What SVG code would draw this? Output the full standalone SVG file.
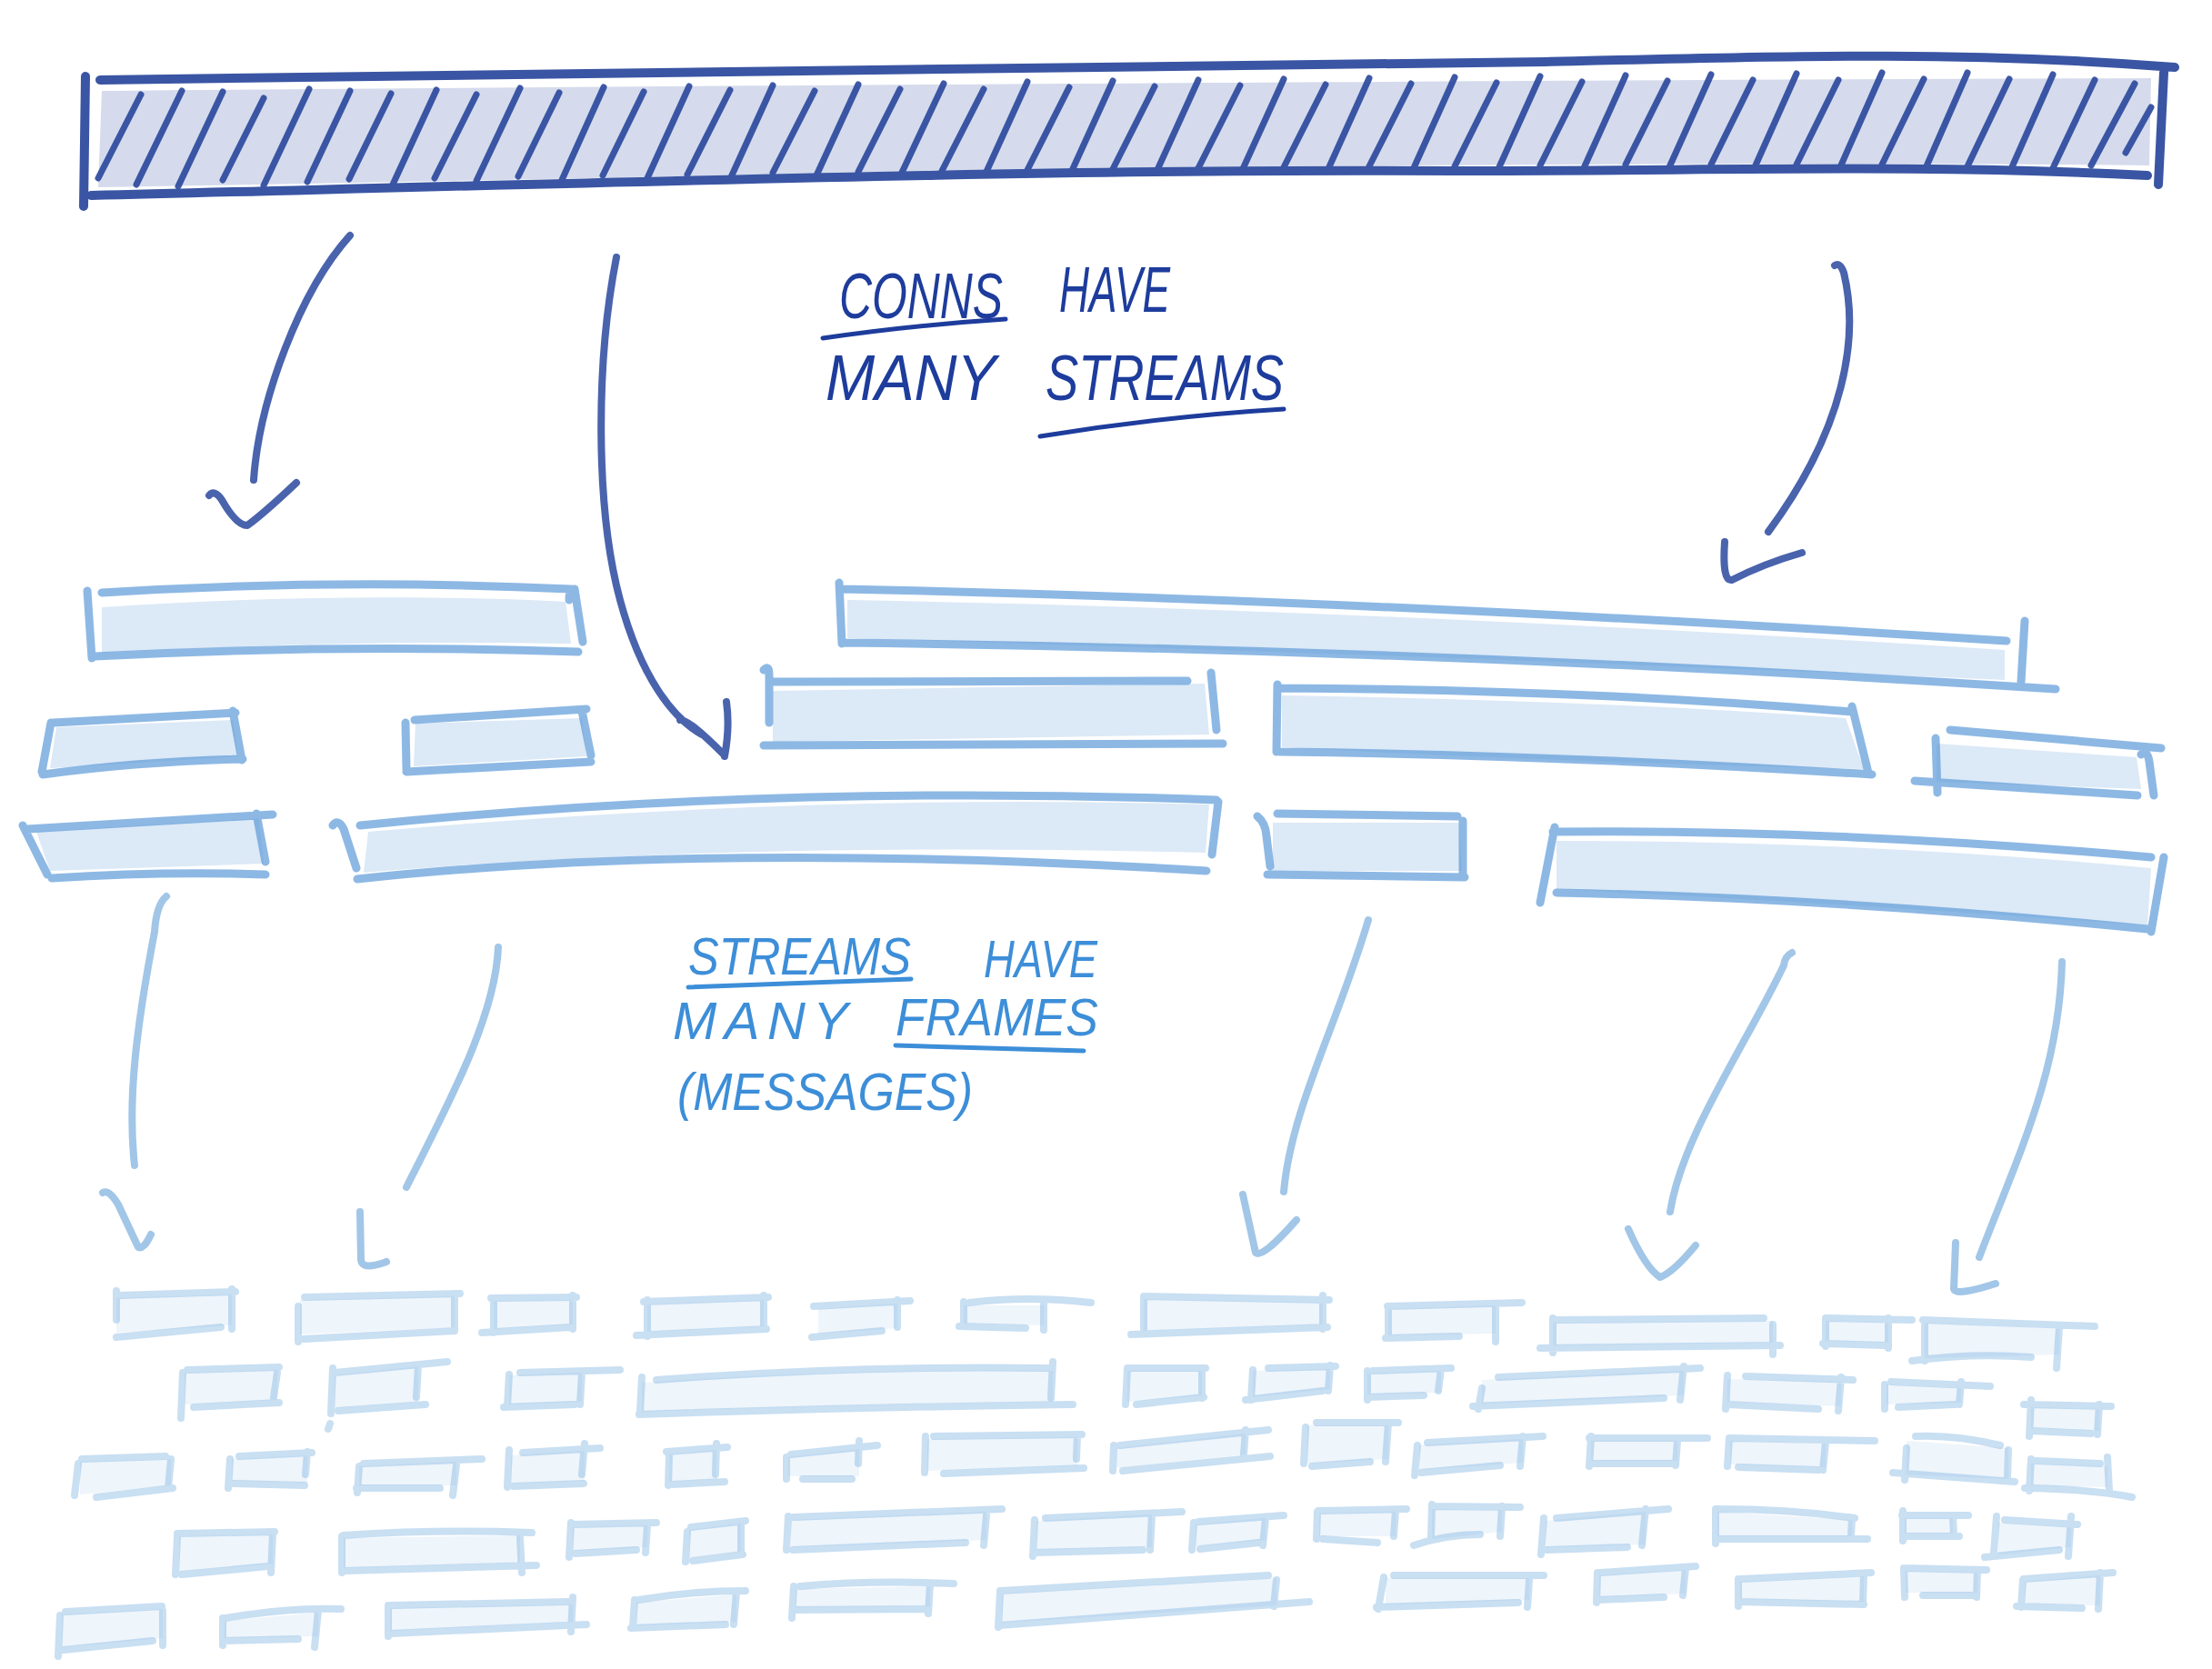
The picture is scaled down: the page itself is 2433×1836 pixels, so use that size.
<svg xmlns="http://www.w3.org/2000/svg" width="2433" height="1836" viewBox="0 0 2433 1836">
<style>
.bg{fill:#ffffff}
.barfill{fill:#d5dbec}
.bar{fill:none;stroke:#3a55a3;stroke-width:10;stroke-linecap:round;stroke-linejoin:round}
.hatch{fill:none;stroke:#2e4a9e;stroke-width:7;stroke-linecap:round;opacity:0.92}
.sf{fill:#dce9f6}
.ss{fill:none;stroke:#5d9ad8;stroke-opacity:0.7;stroke-width:9;stroke-linecap:round;stroke-linejoin:round}
.ff{fill:#eaf2fa;opacity:0.8}
.fs{fill:none;stroke:#7fb2e0;stroke-opacity:0.42;stroke-width:8;stroke-linecap:round;stroke-linejoin:round}
.darr{fill:none;stroke:#4a63ad;stroke-width:8;stroke-linecap:round;stroke-linejoin:round}
.larr{fill:none;stroke:#a2c6e7;stroke-width:8;stroke-linecap:round;stroke-linejoin:round}
.t1{font-family:"Liberation Sans","DejaVu Sans",sans-serif;font-style:italic;fill:#1d3c9c;font-size:70px;font-weight:400}
.t2{font-family:"Liberation Sans","DejaVu Sans",sans-serif;font-style:italic;fill:#3d8ed8;font-size:58px;font-weight:400}
.u1{fill:none;stroke:#1d3c9c;stroke-width:5;stroke-linecap:round}
.u2{fill:none;stroke:#3d8ed8;stroke-width:5;stroke-linecap:round}
</style>
<rect class="bg" x="0" y="0" width="2433" height="1836"/>

<g id="connection">
<path class="barfill" d="M112,100 C600,96 1300,90 2366,86 L2364,182 C2000,178 1600,182 1300,184 C900,190 500,200 108,206 Z"/>
<path class="hatch" d="M108,196 L155,104 M150,203 L200,100 M196,205 L245,101 M245,198 L290,108 M290,204 L340,98 M338,200 L385,100 M384,197 L430,103 M432,203 L480,99 M478,196 L524,104 M524,199 L572,97 M570,194 L615,102 M618,198 L664,96 M663,193 L708,101 M712,196 L758,95 M756,192 L803,99 M804,195 L850,94 M850,190 L896,100 M898,193 L944,93 M944,189 L990,98 M990,194 L1038,92 M1036,188 L1082,98 M1084,191 L1130,90 M1130,187 L1176,96 M1178,190 L1224,89 M1224,186 L1270,95 M1272,189 L1318,88 M1318,185 L1364,94 M1366,188 L1412,87 M1412,184 L1458,93 M1460,188 L1506,86 M1506,183 L1552,92 M1554,187 L1600,85 M1600,183 L1646,91 M1648,186 L1694,84 M1694,182 L1740,90 M1742,185 L1788,83 M1788,181 L1834,89 M1836,184 L1882,82 M1882,181 L1928,88 M1930,184 L1976,81 M1976,181 L2022,88 M2024,184 L2070,80 M2070,181 L2116,87 M2118,185 L2164,80 M2164,183 L2210,87 M2212,186 L2258,82 M2258,185 L2304,88 M2300,182 L2348,92 M2338,168 L2366,118"/>
<path class="bar" d="M110,88 C600,80 1200,75 1700,68 C1950,62 2150,55 2392,74 M100,215 C700,200 1200,185 1600,188 C1900,188 2100,180 2362,193 M94,84 L92,227 M2380,80 L2374,203"/>
</g>

<g id="label-conns">
<text class="t1" x="923" y="350" textLength="180" lengthAdjust="spacingAndGlyphs">CONNS</text>
<text class="t1" x="1165" y="343" textLength="122" lengthAdjust="spacingAndGlyphs">HAVE</text>
<text class="t1" x="908" y="440" textLength="188" lengthAdjust="spacingAndGlyphs">MANY</text>
<text class="t1" x="1150" y="440" textLength="262" lengthAdjust="spacingAndGlyphs">STREAMS</text>
<path class="u1" d="M905,372 Q1000,358 1106,351 M1144,480 Q1280,458 1412,450"/>
</g>

<g id="streams">
<g id="s1"><path class="sf" d="M112,668 C300,655 500,655 622,662 L628,708 C450,705 300,708 112,718 Z"/><path class="ss" d="M112,652 Q370,636 628,648 M104,722 Q370,708 636,717 M96,650 L101,724 M626,660 Q626,647 632,648 L641,706"/></g>
<g id="s2"><path class="sf" d="M62,800 L256,792 L262,832 L55,845 Z"/><path class="ss" d="M59,795 L259,784 M47,852 Q150,838 267,835 M56,795 L46,849 M256,782 L266,836"/></g>
<g id="s3"><path class="sf" d="M457,796 L640,790 L645,832 L455,843 Z"/><path class="ss" d="M456,792 L645,780 M447,849 L650,838 M446,795 L447,846 M640,782 L650,831"/></g>
<g id="s4"><path class="sf" d="M40,915 L285,900 L290,950 L55,958 Z"/><path class="ss" d="M30,912 L300,896 M57,966 Q180,958 292,962 M25,908 L52,962 M282,895 L292,948"/></g>
<g id="s5"><path class="sf" d="M405,915 Q900,872 1330,885 L1326,938 Q800,925 400,960 Z"/><path class="ss" d="M396,908 Q850,862 1338,880 M393,967 Q780,925 1327,958 M366,908 Q372,900 378,912 L392,955 M1340,882 L1333,940"/></g>
<g id="s6"><path class="sf" d="M932,660 Q1500,670 2205,715 L2205,748 Q1600,722 932,702 Z"/><path class="ss" d="M926,648 Q1500,660 2207,705 M928,707 Q1600,715 2261,758 M923,641 L926,708 M2227,683 L2223,750"/></g>
<g id="s7"><path class="sf" d="M850,760 L1325,752 L1330,808 L850,816 Z"/><path class="ss" d="M850,750 L1306,749 M840,820 L1345,818 M840,737 Q846,731 846,742 L846,795 M1332,740 L1338,803"/></g>
<g id="s8"><path class="sf" d="M1410,765 Q1750,770 2030,790 L2050,846 Q1700,838 1410,822 Z"/><path class="ss" d="M1405,757 Q1733,758 2037,783 M1408,827 Q1700,830 2059,852 M1405,753 L1404,827 M2037,777 L2055,850"/></g>
<g id="s9"><path class="sf" d="M2130,818 L2350,833 L2355,868 L2130,860 Z"/><path class="ss" d="M2145,803 L2377,823 M2106,859 L2351,875 M2129,812 L2131,872 M2355,830 Q2362,824 2364,838 L2369,875"/></g>
<g id="s10"><path class="sf" d="M1400,905 L1605,905 L1608,958 L1400,958 Z"/><path class="ss" d="M1405,895 L1603,898 M1394,962 L1611,965 M1383,898 Q1392,905 1393,920 L1397,953 M1609,903 L1609,963"/></g>
<g id="s11"><path class="sf" d="M1712,925 Q2050,925 2366,955 L2362,1018 Q2050,995 1712,978 Z"/><path class="ss" d="M1708,915 Q2020,912 2366,943 M1712,982 Q2022,988 2362,1022 M1710,910 L1694,993 M2380,943 L2366,1025"/></g>
</g>

<g id="label-streams">
<text class="t2" x="757" y="1072" textLength="245" lengthAdjust="spacingAndGlyphs">STREAMS</text>
<text class="t2" x="1082" y="1075" textLength="125" lengthAdjust="spacingAndGlyphs">HAVE</text>
<text class="t2" x="740" y="1143" textLength="193">MANY</text>
<text class="t2" x="985" y="1139" textLength="223" lengthAdjust="spacingAndGlyphs">FRAMES</text>
<text class="t2" x="745" y="1221" textLength="325" lengthAdjust="spacingAndGlyphs">(MESSAGES)</text>
<path class="u2" d="M757,1086 L1002,1077 M985,1150 L1192,1156"/>
</g>

<g id="frames">
<g id="f1a"><path class="ff" d="M128,1428 L255,1424 L255,1458 L128,1466 Z"/><path class="fs" d="M132,1425 L259,1421 M128,1471 L243,1460 M128,1420 L128,1452 M255,1418 L255,1462"/></g>
<g id="f1b"><path class="ff" d="M330,1430 L500,1426 L500,1460 L330,1468 Z"/><path class="fs" d="M335,1427 L506,1423 M334,1473 L500,1464 M328,1437 L328,1476 M500,1428 L500,1463"/></g>
<g id="f1c"><path class="ff" d="M543,1431 L630,1430 L630,1457 L543,1462 Z"/><path class="fs" d="M540,1428 L634,1427 M530,1466 L628,1460 M543,1428 L543,1466 M630,1425 L630,1462"/></g>
<g id="f1d"><path class="ff" d="M712,1435 L840,1430 L840,1459 L712,1465 Z"/><path class="fs" d="M708,1432 L845,1427 M700,1469 L843,1462 M712,1430 L712,1470 M840,1425 L840,1462"/></g>
<g id="f1e"><path class="ff" d="M900,1440 L987,1434 L987,1461 L900,1467 Z"/><path class="fs" d="M895,1437 L1001,1431 M893,1471 L970,1464 M987,1430 L987,1460"/></g>
<g id="f1f"><path class="ff" d="M1060,1436 L1148,1436 L1148,1458 L1060,1456 Z"/><path class="fs" d="M1066,1433 Q1130,1425 1200,1433 M1055,1459 L1128,1461 M1148,1430 L1148,1463 M1060,1432 L1060,1455"/></g>
<g id="f1g"><path class="ff" d="M1258,1429 L1455,1433 L1455,1457 L1258,1464 Z"/><path class="fs" d="M1258,1426 L1462,1430 M1244,1468 L1460,1460 M1258,1428 L1258,1462 M1455,1425 L1455,1462"/></g>
<g id="f1h"><path class="ff" d="M1527,1440 L1645,1436 L1645,1467 L1527,1469 Z"/><path class="fs" d="M1526,1437 L1674,1433 M1524,1472 L1605,1470 M1527,1440 L1527,1472 M1645,1437 L1645,1476"/></g>
<g id="f1i"><path class="ff" d="M1708,1455 L1950,1453 L1950,1477 L1708,1480 Z"/><path class="fs" d="M1708,1452 L1940,1450 M1694,1483 L1958,1480 M1708,1450 L1708,1488 M1950,1457 L1950,1490"/></g>
<g id="f1j"><path class="ff" d="M2008,1453 L2077,1455 L2077,1477 L2008,1475 Z"/><path class="fs" d="M2010,1450 L2103,1452 M2005,1478 L2072,1480 M2008,1450 L2008,1481 M2077,1450 L2077,1483"/></g>
<g id="f1k"><path class="ff" d="M2117,1455 L2265,1462 L2265,1490 L2117,1494 Z"/><path class="fs" d="M2115,1452 L2304,1459 M2103,1497 Q2170,1488 2234,1493 M2117,1457 L2117,1497 M2265,1460 L2262,1505"/></g>

<g id="f2a"><path class="ff" d="M203,1510 L305,1507 L305,1540 L203,1545 Z"/><path class="fs" d="M206,1507 L307,1504 M213,1548 L307,1543 M201,1510 L199,1560 M305,1510 L301,1537"/></g>
<g id="f2b"><path class="ff" d="M368,1513 L460,1503 L460,1542 L368,1549 Z"/><path class="fs" d="M368,1510 L492,1498 M372,1552 L468,1545 M366,1505 L364,1555 M460,1502 L458,1537 M363,1566 L361,1572"/></g>
<g id="f2c"><path class="ff" d="M560,1513 L640,1510 L640,1542 L560,1545 Z"/><path class="fs" d="M572,1510 L682,1507 M554,1548 L632,1545 M560,1512 L558,1547 M640,1510 L638,1545"/></g>
<g id="f2d"><path class="ff" d="M706,1521 Q930,1505 1158,1508 L1158,1542 Q930,1545 706,1553 Z"/><path class="fs" d="M722,1518 Q930,1502 1152,1505 M703,1556 Q940,1548 1180,1545 M706,1515 L704,1553 M1158,1498 L1156,1538"/></g>
<g id="f2e"><path class="ff" d="M1240,1508 L1322,1508 L1322,1535 L1240,1542 Z"/><path class="fs" d="M1240,1505 L1326,1505 M1250,1545 L1324,1537 M1240,1505 L1238,1545 M1322,1505 L1322,1538"/></g>
<g id="f2f"><path class="ff" d="M1378,1508 L1463,1506 L1463,1528 L1378,1537 Z"/><path class="fs" d="M1395,1505 L1469,1503 M1370,1540 L1455,1530 M1378,1507 L1376,1540 M1463,1502 L1461,1530"/></g>
<g id="f2g"><path class="ff" d="M1504,1511 L1585,1508 L1585,1532 L1504,1534 Z"/><path class="fs" d="M1510,1508 L1596,1505 M1504,1537 L1566,1535 M1504,1508 L1504,1540 M1585,1506 L1582,1530"/></g>
<g id="f2h"><path class="ff" d="M1630,1518 L1852,1508 L1852,1535 L1630,1544 Z"/><path class="fs" d="M1648,1515 L1870,1505 M1620,1547 L1830,1538 M1630,1527 L1626,1550 M1852,1503 L1848,1540"/></g>
<g id="f2i"><path class="ff" d="M1900,1517 L2025,1520 L2025,1547 L1900,1542 Z"/><path class="fs" d="M1920,1514 L2038,1518 M1900,1545 L2000,1550 M1900,1513 L1898,1550 M2025,1515 L2022,1552"/></g>
<g id="f2j"><path class="ff" d="M2075,1523 L2157,1527 L2157,1543 L2075,1545 Z"/><path class="fs" d="M2080,1520 L2189,1525 M2088,1548 L2150,1545 M2073,1523 L2073,1550 M2157,1520 L2155,1545"/></g>
<g id="f2k"><path class="ff" d="M2234,1548 L2309,1550 L2309,1574 L2234,1571 Z"/><path class="fs" d="M2226,1545 L2322,1547 M2234,1574 L2300,1577 M2234,1540 L2232,1580 M2309,1545 L2307,1578"/></g>

<g id="f3a"><path class="ff" d="M88,1608 L188,1605 L188,1634 L88,1644 Z"/><path class="fs" d="M90,1605 L182,1602 M106,1647 L190,1637 M86,1610 L82,1645 M188,1605 L185,1637"/></g>
<g id="f3b"><path class="ff" d="M255,1605 L338,1601 L338,1631 L255,1629 Z"/><path class="fs" d="M263,1602 L343,1598 M257,1632 L335,1634 M253,1605 L251,1637 M338,1597 L336,1622"/></g>
<g id="f3c"><path class="ff" d="M395,1613 L502,1608 L502,1634 L395,1634 Z"/><path class="fs" d="M400,1610 L530,1605 M392,1637 L484,1637 M395,1613 L393,1642 M502,1612 L498,1645"/></g>
<g id="f3d"><path class="ff" d="M562,1601 L643,1596 L643,1629 L562,1632 Z"/><path class="fs" d="M575,1598 L660,1593 M565,1635 L642,1632 M560,1595 L558,1636 M643,1588 L640,1622"/></g>
<g id="f3e"><path class="ff" d="M736,1600 L788,1595 L788,1627 L736,1630 Z"/><path class="fs" d="M733,1597 L800,1592 M740,1633 L797,1630 M736,1600 L735,1634 M788,1588 L787,1622"/></g>
<g id="f3f"><path class="ff" d="M867,1603 L945,1594 L945,1624 L867,1624 Z"/><path class="fs" d="M870,1600 L965,1590 M883,1627 L937,1627 M865,1603 L865,1627 M945,1585 L944,1610"/></g>
<g id="f3g"><path class="ff" d="M1020,1583 L1185,1581 L1185,1612 L1020,1618 Z"/><path class="fs" d="M1027,1580 L1190,1578 M1038,1621 L1192,1615 M1018,1580 L1017,1620 M1185,1578 L1184,1605"/></g>
<g id="f3h"><path class="ff" d="M1228,1593 L1370,1577 L1370,1600 L1228,1615 Z"/><path class="fs" d="M1232,1590 L1395,1573 M1235,1618 L1397,1602 M1225,1590 L1224,1618 M1370,1573 L1368,1600"/></g>
<g id="f3i"><path class="ff" d="M1438,1568 L1527,1568 L1527,1605 L1438,1610 Z"/><path class="fs" d="M1448,1565 L1538,1565 M1443,1613 L1507,1608 M1436,1570 L1434,1610 M1527,1565 L1524,1608"/></g>
<g id="f3j"><path class="ff" d="M1561,1590 L1675,1583 L1675,1609 L1561,1617 Z"/><path class="fs" d="M1570,1587 L1697,1580 M1563,1620 L1650,1612 M1559,1590 L1556,1623 M1675,1580 L1672,1613"/></g>
<g id="f3k"><path class="ff" d="M1750,1585 L1845,1585 L1845,1607 L1750,1607 Z"/><path class="fs" d="M1748,1582 L1878,1582 M1750,1610 L1838,1610 M1750,1580 L1748,1613 M1845,1585 L1843,1612"/></g>
<g id="f3l"><path class="ff" d="M1903,1585 L2008,1588 L2008,1614 L1903,1611 Z"/><path class="fs" d="M1905,1582 L2062,1585 M1912,1614 L2000,1617 M1902,1582 L1900,1613 M2008,1587 L2005,1617"/></g>
<g id="f3m"><path class="ff" d="M2097,1585 L2209,1593 L2209,1627 L2097,1622 Z"/><path class="fs" d="M2107,1580 Q2150,1578 2200,1590 M2082,1620 L2216,1630 M2097,1593 L2095,1628 M2209,1595 L2208,1625"/></g>
<g id="f3n"><path class="ff" d="M2234,1610 L2318,1613 L2318,1636 L2234,1634 Z"/><path class="fs" d="M2240,1607 L2310,1610 M2227,1637 Q2300,1638 2345,1647 M2234,1605 L2232,1640 M2318,1603 L2320,1640"/></g>

<g id="f4a"><path class="ff" d="M197,1690 L300,1688 L300,1720 L197,1729 Z"/><path class="fs" d="M195,1687 L302,1685 M200,1732 L295,1723 M195,1690 L193,1732 M300,1688 L298,1730"/></g>
<g id="f4b"><path class="ff" d="M378,1692 L572,1689 L572,1719 L378,1725 Z"/><path class="fs" d="M378,1689 Q480,1682 585,1686 M380,1728 L590,1722 M376,1690 L376,1730 M572,1692 L574,1730"/></g>
<g id="f4c"><path class="ff" d="M630,1680 L712,1678 L712,1702 L630,1706 Z"/><path class="fs" d="M630,1677 L722,1675 M633,1709 L700,1705 M628,1675 L626,1713 M712,1678 L710,1708"/></g>
<g id="f4d"><path class="ff" d="M758,1683 L815,1676 L815,1707 L758,1714 Z"/><path class="fs" d="M760,1680 L820,1673 M762,1717 L817,1710 M756,1685 L754,1718 M815,1674 L815,1710"/></g>
<g id="f4e"><path class="ff" d="M870,1672 L1085,1663 L1085,1694 L870,1702 Z"/><path class="fs" d="M873,1669 L1102,1660 M872,1705 L1062,1697 M867,1668 L865,1705 M1085,1667 L1082,1700"/></g>
<g id="f4f"><path class="ff" d="M1140,1673 L1267,1666 L1267,1702 L1140,1705 Z"/><path class="fs" d="M1150,1670 L1300,1663 M1138,1708 L1257,1705 M1138,1672 L1136,1712 M1267,1665 L1265,1705"/></g>
<g id="f4g"><path class="ff" d="M1315,1677 L1392,1670 L1392,1694 L1315,1701 Z"/><path class="fs" d="M1318,1674 L1412,1667 M1320,1704 L1385,1697 M1313,1675 L1311,1705 M1392,1670 L1389,1700"/></g>
<g id="f4h"><path class="ff" d="M1451,1665 L1535,1663 L1535,1690 L1451,1690 Z"/><path class="fs" d="M1450,1662 L1547,1660 M1455,1693 L1515,1697 M1449,1663 L1448,1693 M1535,1662 L1533,1690"/></g>
<g id="f4i"><path class="ff" d="M1575,1660 L1652,1661 L1652,1685 L1575,1693 Z"/><path class="fs" d="M1577,1657 L1672,1658 M1555,1700 Q1590,1688 1628,1688 M1575,1655 L1574,1690 M1652,1657 L1650,1690"/></g>
<g id="f4j"><path class="ff" d="M1700,1673 L1810,1663 L1810,1699 L1700,1702 Z"/><path class="fs" d="M1712,1670 L1835,1660 M1702,1705 L1790,1702 M1698,1670 L1695,1710 M1810,1660 L1806,1700"/></g>
<g id="f4k"><path class="ff" d="M1889,1663 L2037,1672 L2037,1690 L1889,1690 Z"/><path class="fs" d="M1888,1660 Q1970,1660 2040,1670 M1892,1693 L2054,1693 M1887,1660 L1887,1698 M2037,1670 L2036,1690"/></g>
<g id="f4l"><path class="ff" d="M2095,1670 L2148,1670 L2148,1687 L2095,1687 Z"/><path class="fs" d="M2092,1667 L2165,1667 M2097,1690 L2155,1690 M2093,1662 L2093,1695 M2148,1667 L2149,1690"/></g>
<g id="f4m"><path class="ff" d="M2198,1675 L2278,1680 L2278,1702 L2198,1710 Z"/><path class="fs" d="M2205,1672 L2285,1677 M2183,1713 L2265,1705 M2196,1668 L2193,1708 M2278,1668 L2275,1712"/></g>

<g id="f5a"><path class="ff" d="M68,1776 L179,1770 L179,1802 L68,1812 Z"/><path class="fs" d="M72,1773 L178,1767 M70,1815 L168,1805 M66,1777 L64,1822 M179,1772 L179,1810"/></g>
<g id="f5b"><path class="ff" d="M247,1783 L350,1774 L350,1800 L247,1802 Z"/><path class="fs" d="M248,1780 Q320,1768 375,1770 M245,1805 L328,1803 M245,1780 L245,1810 M350,1772 L346,1812"/></g>
<g id="f5c"><path class="ff" d="M429,1769 L630,1765 L630,1784 L429,1794 Z"/><path class="fs" d="M430,1766 L625,1762 M430,1797 L645,1787 M427,1766 L427,1800 M630,1757 L628,1795"/></g>
<g id="f5d"><path class="ff" d="M700,1763 L810,1754 L810,1784 L700,1788 Z"/><path class="fs" d="M702,1760 Q760,1750 820,1750 M694,1791 L798,1787 M698,1760 L696,1790 M810,1752 L807,1787"/></g>
<g id="f5e"><path class="ff" d="M875,1748 L1023,1745 L1023,1767 L875,1768 Z"/><path class="fs" d="M880,1745 Q960,1738 1049,1742 M872,1771 L1020,1770 M873,1745 L871,1780 M1023,1743 L1021,1775"/></g>
<g id="f5f"><path class="ff" d="M1102,1753 L1404,1736 L1404,1766 L1102,1785 Z"/><path class="fs" d="M1100,1750 L1395,1733 M1100,1788 L1440,1762 M1100,1752 L1098,1790 M1404,1738 L1401,1767"/></g>
<g id="f5g"><path class="ff" d="M1524,1736 L1682,1736 L1682,1760 L1524,1765 Z"/><path class="fs" d="M1533,1733 L1698,1733 M1514,1768 L1670,1763 M1522,1735 L1516,1770 M1682,1738 L1680,1768"/></g>
<g id="f5h"><path class="ff" d="M1759,1733 L1854,1727 L1854,1753 L1759,1757 Z"/><path class="fs" d="M1760,1730 L1865,1723 M1757,1760 L1830,1757 M1757,1730 L1756,1763 M1854,1725 L1851,1755"/></g>
<g id="f5i"><path class="ff" d="M1914,1740 L2050,1734 L2050,1762 L1914,1759 Z"/><path class="fs" d="M1915,1737 L2058,1730 M1912,1762 L2050,1765 M1912,1737 L1912,1767 M2050,1732 L2049,1765"/></g>
<g id="f5j"><path class="ff" d="M2096,1728 L2175,1730 L2175,1752 L2096,1752 Z"/><path class="fs" d="M2094,1725 L2185,1727 M2115,1755 L2172,1755 M2094,1725 L2095,1757 M2175,1727 L2174,1757"/></g>
<g id="f5k"><path class="ff" d="M2227,1740 L2310,1733 L2310,1766 L2227,1764 Z"/><path class="fs" d="M2226,1737 L2324,1730 M2218,1767 L2290,1769 M2225,1738 L2223,1768 M2310,1730 L2308,1770"/></g>
</g>

<g id="connectors">
<path class="darr" d="M385,259 C330,320 285,440 279,528 M230,545 Q236,538 244,550 Q260,578 272,578 Q290,565 326,531"/>
<path class="darr" d="M678,283 C655,400 655,560 682,660 C705,745 740,790 772,808 M748,792 Q756,790 796,830 M797,832 Q803,800 799,772"/>
<path class="darr" d="M2018,292 Q2024,288 2028,300 C2045,370 2030,470 1945,585 M1897,596 Q1894,640 1905,638 Q1940,620 1982,608"/>
<path class="larr" d="M183,986 Q172,995 170,1025 C150,1130 140,1210 148,1282 M113,1312 Q120,1308 130,1325 L152,1372 Q158,1375 166,1358"/>
<path class="larr" d="M548,1042 C545,1120 490,1220 447,1306 M396,1333 L397,1386 Q398,1398 425,1388"/>
<path class="larr" d="M1505,1012 C1470,1130 1420,1220 1412,1311 M1367,1314 L1381,1378 Q1388,1385 1426,1342"/>
<path class="larr" d="M1971,1048 Q1963,1052 1962,1062 C1920,1150 1850,1250 1837,1333 M1791,1352 Q1810,1395 1826,1405 Q1840,1400 1865,1370"/>
<path class="larr" d="M2268,1058 C2265,1180 2220,1270 2177,1383 M2151,1367 L2149,1418 Q2152,1426 2195,1412"/>
</g>
</svg>
